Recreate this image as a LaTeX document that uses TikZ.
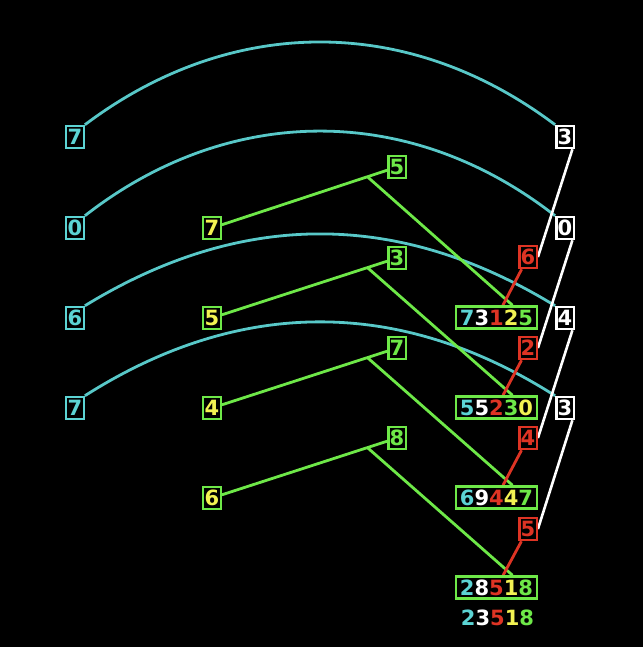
\documentclass[tikz,border=0pt]{standalone}
\usepackage{fontspec}
\setmainfont{DejaVu Sans}
\usetikzlibrary{calc}
\definecolor{cy}{RGB}{92,212,212}
\definecolor{cyl}{RGB}{88,200,200}
\definecolor{gr}{RGB}{110,232,72}
\definecolor{ye}{RGB}{242,242,82}
\definecolor{rd}{RGB}{222,52,36}
\pgfdeclarelayer{back}
\pgfdeclarelayer{lines}
\pgfsetlayers{back,lines,main}
\tikzset{
  digitfont/.style={font=\bfseries\fontsize{21}{21}\selectfont, text height=15.3pt, text depth=0pt},
  box/.style={digitfont, draw, fill=black, line width=2.4pt, inner xsep=1.4pt, inner ysep=3.4pt},
  cbox/.style={box, draw=cy, text=cy},
  wbox/.style={box, draw=white, text=white},
  ybox/.style={box, draw=gr, text=ye},
  gbox/.style={box, draw=gr, text=gr},
  rbox/.style={box, draw=rd, text=rd},
  sbox/.style={box, draw=gr, inner xsep=4.2pt},
  arcline/.style={draw=cyl, line width=2.8pt},
  wline/.style={draw=white, line width=2.6pt},
  gline/.style={draw=gr, line width=2.8pt},
  rline/.style={draw=rd, line width=2.8pt},
}
\newcommand{\dg}[5]{\textcolor{cy}{#1}\textcolor{white}{#2}\textcolor{rd}{#3}#4#5}
\begin{document}
\begin{tikzpicture}[x=1pt,y=-1pt]
\begin{pgfonlayer}{back}
\fill[black] (0,0) rectangle (643,647);
\end{pgfonlayer}
\useasboundingbox (0,0) rectangle (643,647);
% left cyan
\node[cbox] (c1) at (75,137) {7};
\node[cbox] (c2) at (75,228) {0};
\node[cbox] (c3) at (75,318) {6};
\node[cbox] (c4) at (75,408) {7};
% right white
\node[wbox] (w1) at (565,137) {3};
\node[wbox] (w2) at (565,228) {0};
\node[wbox] (w3) at (565,318) {4};
\node[wbox] (w4) at (565,408) {3};
% yellow
\node[ybox] (y1) at (212,228) {7};
\node[ybox] (y2) at (212,318) {5};
\node[ybox] (y3) at (212,408) {4};
\node[ybox] (y4) at (212,498) {6};
% green
\node[gbox] (g1) at (397,167) {5};
\node[gbox] (g2) at (397,258) {3};
\node[gbox] (g3) at (397,348) {7};
\node[gbox] (g4) at (397,438) {8};
% red
\node[rbox] (r1) at (528,257) {6};
\node[rbox] (r2) at (528,348) {2};
\node[rbox] (r3) at (528,438) {4};
\node[rbox] (r4) at (528,529) {5};
% results
\node[sbox] (s1) at (496.5,317.5) {\dg{7}{3}{1}{\textcolor{ye}{2}}{\textcolor{gr}{5}}};
\node[sbox] (s2) at (496.5,407.5) {\dg{5}{5}{2}{\textcolor{gr}{3}}{\textcolor{ye}{0}}};
\node[sbox] (s3) at (496.5,497.5) {\dg{6}{9}{4}{\textcolor{ye}{4}}{\textcolor{gr}{7}}};
\node[sbox] (s4) at (496.5,587.5) {\dg{2}{8}{5}{\textcolor{ye}{1}}{\textcolor{gr}{8}}};
\node[digitfont, inner sep=0pt] (fin) at (497.5,618) {\dg{2}{3}{5}{\textcolor{ye}{1}}{\textcolor{gr}{8}}};
% branch points
\coordinate (b1) at ($(y1)!0.84!(g1)$);
\coordinate (b2) at ($(y2)!0.84!(g2)$);
\coordinate (b3) at ($(y3)!0.84!(g3)$);
\coordinate (b4) at ($(y4)!0.84!(g4)$);
\begin{pgfonlayer}{lines}
% cyan arcs
\draw[arcline] (c1.north east) to[bend left=37] (w1.north west);
\draw[arcline] (c2.north east) to[bend left=38] (w2.north west);
\draw[arcline] (c3.north east) to[bend left=31.5] (w3.north west);
\draw[arcline] (c4.north east) to[bend left=32.5] (w4.north west);
% green
\draw[gline] (y1) -- (g1);
\draw[gline] (y2) -- (g2);
\draw[gline] (y3) -- (g3);
\draw[gline] (y4) -- (g4);
\draw[gline] (b1) -- ([xshift=16pt]s1.north);
\draw[gline] (b2) -- ([xshift=16pt]s2.north);
\draw[gline] (b3) -- ([xshift=16pt]s3.north);
\draw[gline] (b4) -- ([xshift=16pt]s4.north);
% red
\draw[rline] (r1) -- (s1);
\draw[rline] (r2) -- (s2);
\draw[rline] (r3) -- (s3);
\draw[rline] (r4) -- (s4);
% white
\draw[wline] ([xshift=-2.5pt]w1.south east) -- (r1.east);
\draw[wline] ([xshift=-2.5pt]w2.south east) -- (r2.east);
\draw[wline] ([xshift=-2.5pt]w3.south east) -- (r3.east);
\draw[wline] ([xshift=-2.5pt]w4.south east) -- (r4.east);
\end{pgfonlayer}
\end{tikzpicture}
\end{document}
